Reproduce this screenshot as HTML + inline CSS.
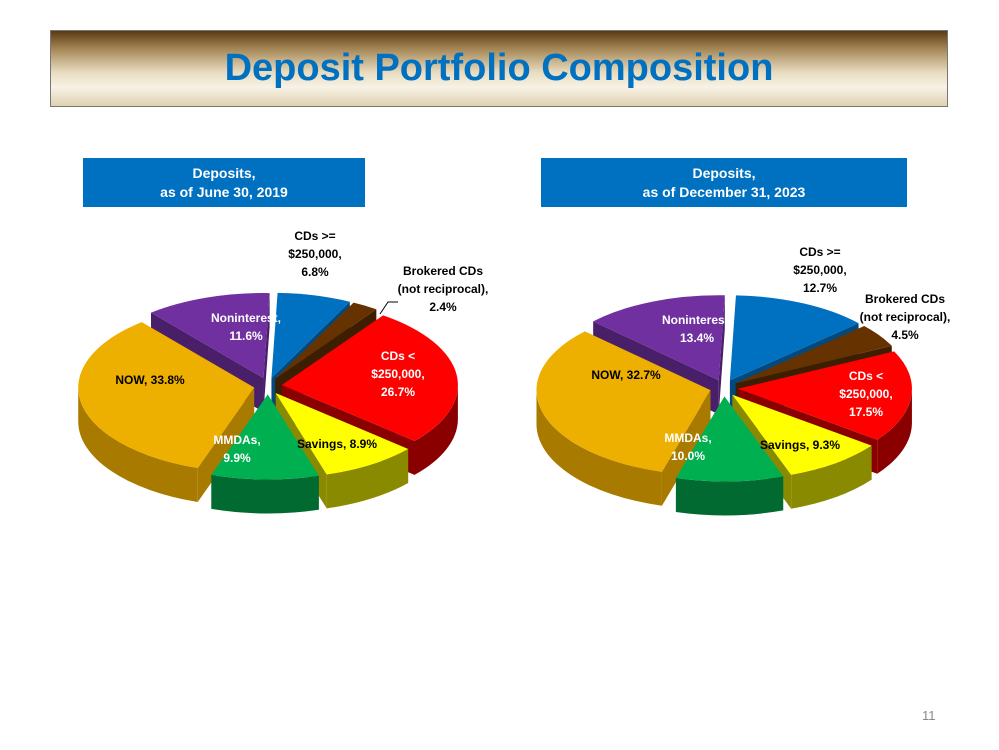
<!DOCTYPE html>
<html><head><meta charset="utf-8">
<style>
body{margin:0;background:#fff;width:999px;height:750px;overflow:hidden;font-family:"Liberation Sans",sans-serif;}
#banner{position:absolute;left:50px;top:30px;width:898px;height:77px;border:1px solid #777;box-sizing:border-box;
background:linear-gradient(#5a3a12 0%,#a88a5a 25%,#e8dcc0 55%,#f7f2e6 75%,#e0d2b0 100%);}
#title{position:absolute;left:50px;top:47px;width:898px;text-align:center;color:#0070C0;font-weight:bold;font-size:38px;}
.sub{position:absolute;top:158px;height:49px;background:#0070C0;color:#fff;font-weight:bold;font-size:14px;text-align:center;line-height:19px;padding-top:6px;box-sizing:border-box;}
#pg{position:absolute;left:922px;top:708px;color:#888;font-size:13px;}
svg{position:absolute;left:0;top:0}
</style></head><body>
<div id="banner"></div>
<div id="title">Deposit Portfolio Composition</div>
<div class="sub" style="left:83px;width:282px">Deposits,<br>as of June 30, 2019</div>
<div class="sub" style="left:541px;width:366px">Deposits,<br>as of December 31, 2023</div>
<div id="pg">11</div>
<svg id="chart" width="999" height="750"></svg>
<script>
const categories=["CDs >= $250,000","Brokered CDs (not reciprocal)","CDs < $250,000","Savings","MMDAs","NOW","Noninterest"];
const values2019=[6.8,2.4,26.7,8.9,9.9,33.8,11.6];
const values2023=[12.7,4.5,17.5,9.3,10.0,32.7,13.4];
const topColors=["#0070C0","#663300","#FF0000","#FFFF00","#00B050","#EEB000","#7030A0"];
const sideColors=["#004a80","#3d1e00","#8a0000","#8a8a00","#006a30","#a87a00","#4a1f6a"];
const labels2019=["CDs >=|$250,000,|6.8%","Brokered CDs|(not reciprocal),|2.4%","CDs <|$250,000,|26.7%","Savings, 8.9%","MMDAs,|9.9%","NOW, 33.8%","Noninterest,|11.6%"];
const labels2023=["CDs >=|$250,000,|12.7%","Brokered CDs|(not reciprocal),|4.5%","CDs <|$250,000,|17.5%","Savings, 9.3%","MMDAs,|10.0%","NOW, 32.7%","Noninterest,|13.4%"];
const labelColors=["#000","#000","#fff","#000","#fff","#000","#fff"];
const labelPos2019=[[315,240],[443,275],[398,360],[337,448],[237,444],[150,384],[246,322]];
const labelPos2023=[[820,256],[905,303],[866,380],[800,449],[688,442],[626,379],[697,324]];
const NS="http://www.w3.org/2000/svg";
const svg=document.getElementById('chart');
function el(t,a,p){const e=document.createElementNS(NS,t);for(const k in a)e.setAttribute(k,a[k]);(p||svg).appendChild(e);return e;}
function drawPie(vals,cx,cy,rx,ry,depth,expl,start,name,labels,lpos){
  const g=el('g',{});
  
  
  const tot=vals.reduce((a,b)=>a+b,0);
  let a=start;const sl=[];
  vals.forEach((v,i)=>{const sw=v/tot*360;sl.push({i,a0:a,a1:a+sw});a+=sw;});
  const R=d=>d*Math.PI/180;
  const pt=(x,y,d)=>[x+rx*Math.cos(R(d)),y+ry*Math.sin(R(d))];
  sl.forEach(s=>{s.mid=(s.a0+s.a1)/2;s.ox=cx+expl*Math.cos(R(s.mid));s.oy=cy+expl*0.6*Math.sin(R(s.mid));});
  const order=sl.slice().sort((p,q)=>Math.sin(R(p.mid))-Math.sin(R(q.mid)));
  order.forEach(s=>{
    const gs=el('g',{},g);
    
    
    const faces=[];
    if(Math.cos(R(s.a0))<0)faces.push(s.a0);
    if(Math.cos(R(s.a1))>0)faces.push(s.a1);
    faces.forEach(d=>{const p=pt(s.ox,s.oy,d);
      el('path',{d:`M${s.ox},${s.oy} L${p[0]},${p[1]} L${p[0]},${p[1]+depth} L${s.ox},${s.oy+depth} Z`,fill:sideColors[s.i]},gs);});
    for(let k=-1;k<=1;k++){
      const lo=Math.max(s.a0,k*360),hi=Math.min(s.a1,k*360+180);
      if(hi>lo){
        const p0=pt(s.ox,s.oy,lo),p1=pt(s.ox,s.oy,hi);
        const lg=(hi-lo)>180?1:0;
        el('path',{d:`M${p0[0]},${p0[1]} A${rx},${ry} 0 ${lg} 1 ${p1[0]},${p1[1]} L${p1[0]},${p1[1]+depth} A${rx},${ry} 0 ${lg} 0 ${p0[0]},${p0[1]+depth} Z`,fill:sideColors[s.i]},gs);
      }
    }
    const p0=pt(s.ox,s.oy,s.a0),p1=pt(s.ox,s.oy,s.a1);
    const lg=(s.a1-s.a0)>180?1:0;
    el('path',{d:`M${s.ox},${s.oy} L${p0[0]},${p0[1]} A${rx},${ry} 0 ${lg} 1 ${p1[0]},${p1[1]} Z`,fill:topColors[s.i]},gs);
  });
  labels.forEach((t,i)=>{
    const tx=el('text',{x:lpos[i][0],y:lpos[i][1],'text-anchor':'middle','font-size':12,'font-weight':'bold',fill:labelColors[i],'font-family':'Liberation Sans, sans-serif'},g);
    
    
    t.split('|').forEach((line,j)=>{const ts=el('tspan',{x:lpos[i][0],dy:j?18:0},tx);ts.textContent=line;});
  });
}
drawPie(values2019,268,386,176,85,34,14,-88,'pie-2019',labels2019,labelPos2019);
drawPie(values2023,724,388,174,85,34,14,-88,'pie-2023',labels2023,labelPos2023);
const ld=el('path',{d:'M380,314 L388,302 L398,302',stroke:'#000',fill:'none','stroke-width':1});


</script>
</body></html>
